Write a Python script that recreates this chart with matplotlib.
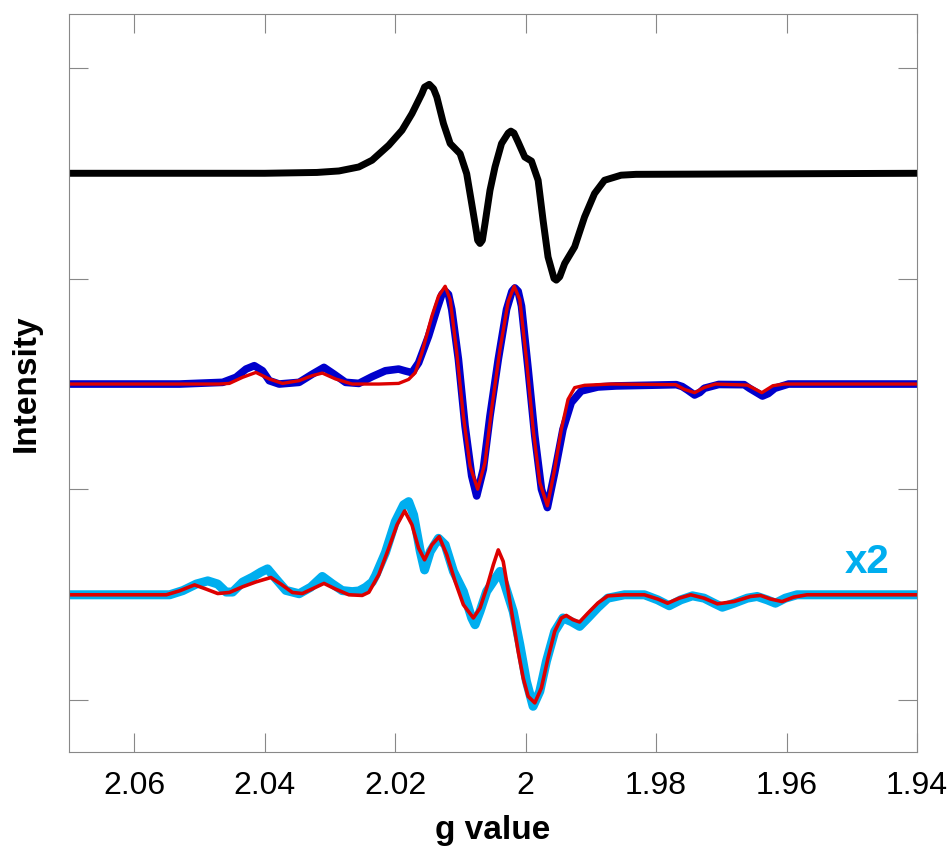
import matplotlib.pyplot as plt
import numpy as np

plt.rcParams['font.family'] = ['Liberation Sans', 'DejaVu Sans']

# top trace (black)
g_top = [2.07, 2.040, 2.0320, 2.02863, 2.02557, 2.02354, 2.02099, 2.01896, 2.01743, 2.01591,
         2.01550, 2.01478, 2.01412, 2.01362, 2.01260, 2.01157, 2.01005, 2.00904, 2.00827,
         2.00751, 2.00736, 2.00700, 2.00664, 2.00623, 2.00547, 2.00470, 2.00370, 2.00267,
         2.00227, 2.00180, 2.00115, 2.00013, 1.99911, 1.99809, 1.99733, 1.99657, 1.99565,
         1.99530, 1.99478, 1.99402, 1.99249, 1.99097, 1.98944, 1.98791, 1.98537, 1.98308, 1.94]
i_top = [0.0, 0.0, 0.004, 0.011, 0.030, 0.062, 0.133, 0.204, 0.283, 0.378,
         0.409, 0.422, 0.401, 0.362, 0.236, 0.141, 0.093, -0.002, -0.144,
         -0.286, -0.318, -0.333, -0.318, -0.238, -0.081, 0.030, 0.141, 0.191,
         0.200, 0.191, 0.148, 0.077, 0.058, -0.033, -0.223, -0.397, -0.499,
         -0.507, -0.491, -0.428, -0.349, -0.207, -0.096, -0.033, -0.009, -0.005, 0.0]

# middle trace (blue) and its fit (red)
g_mid = [2.07, 2.05305, 2.04644, 2.04440, 2.04287, 2.04160, 2.04034, 2.03931, 2.03779,
         2.03473, 2.03270, 2.03092, 2.02939, 2.02761, 2.02557, 2.02354, 2.02150, 2.01947,
         2.01845, 2.01743, 2.01641, 2.01489, 2.01362, 2.01285, 2.01234, 2.01183, 2.01133,
         2.01031, 2.00929, 2.00827, 2.00751, 2.00649, 2.00547, 2.00420, 2.00293, 2.00210,
         2.00165, 2.00115, 2.00064, 1.99962, 1.99860, 1.99758, 1.99667, 1.99555, 1.99428,
         1.99301, 1.99148, 1.98893, 1.98614, 1.9769, 1.9760, 1.9752, 1.9741, 1.9733,
         1.9726, 1.9704, 1.9665, 1.9657, 1.9637, 1.9628, 1.9618, 1.9597, 1.94]
i_mid = [0.0, 0.0, 0.008, 0.032, 0.071, 0.087, 0.063, 0.016, 0.0,
         0.008, 0.047, 0.079, 0.047, 0.008, 0.003, 0.035, 0.063, 0.071,
         0.062, 0.054, 0.101, 0.227, 0.354, 0.425, 0.441, 0.425, 0.354,
         0.117, -0.199, -0.436, -0.531, -0.404, -0.152, 0.117, 0.354, 0.440,
         0.456, 0.440, 0.370, 0.070, -0.246, -0.499, -0.586, -0.420, -0.215,
         -0.088, -0.033, -0.014, -0.009, -0.003, -0.012, -0.028, -0.052, -0.040,
         -0.020, -0.002, -0.003, -0.020, -0.057, -0.045, -0.020, 0.0, 0.0]

g_mid_fit = [2.07, 2.0470, 2.04542, 2.04339, 2.04135, 2.03931, 2.03728, 2.03473, 2.03270,
             2.03117, 2.02914, 2.02660, 2.02252, 2.01947, 2.01794, 2.01692, 2.01591, 2.01438,
             2.01336, 2.01234, 2.01157, 2.01056, 2.00955, 2.00852, 2.00736, 2.00623, 2.00522,
             2.00394, 2.00267, 2.00176, 2.00090, 1.99988, 1.99885, 1.99783, 1.99667, 1.99555,
             1.99453, 1.99351, 1.99249, 1.99097, 1.98690, 1.9770, 1.9757, 1.9741, 1.9726,
             1.9709, 1.9660, 1.9638, 1.9621, 1.9604, 1.94]
i_mid_fit = [0.0, 0.0, 0.003, 0.032, 0.055, 0.024, 0.003, 0.016, 0.040,
             0.052, 0.024, 0.0, 0.0, 0.003, 0.022, 0.054, 0.148, 0.322,
             0.417, 0.464, 0.401, 0.148, -0.152, -0.389, -0.499, -0.373, -0.120,
             0.164, 0.393, 0.464, 0.401, 0.117, -0.215, -0.468, -0.578, -0.404,
             -0.215, -0.073, -0.017, -0.006, 0.0, -0.003, -0.025, -0.041, -0.016,
             0.0, -0.005, -0.041, -0.008, 0.0, 0.0]

# bottom trace (cyan, shown x2) and its fit (red)
g_bot = [2.07, 2.05458, 2.05255, 2.05050, 2.04873, 2.04721, 2.04593, 2.04492, 2.04339,
         2.04186, 2.04058, 2.03957, 2.03830, 2.03677, 2.03473, 2.03295, 2.03118, 2.02965,
         2.02812, 2.02660, 2.02557, 2.02455, 2.02354, 2.02302, 2.02150, 2.01997, 2.01870,
         2.01794, 2.01718, 2.01615, 2.01550, 2.01463, 2.01336, 2.01234, 2.01107, 2.00955,
         2.00827, 2.00776, 2.00700, 2.00598, 2.00496, 2.00394, 2.00318, 2.00191, 2.00089,
         1.99988, 1.99886, 1.99783, 1.99682, 1.99555, 1.99428, 1.99301, 1.99173, 1.99046,
         1.98893, 1.98741, 1.98485, 1.98180, 1.97977, 1.97799, 1.97622, 1.97443, 1.97265,
         1.97112, 1.96985, 1.96806, 1.96603, 1.96451, 1.96298, 1.96171, 1.96019, 1.95840, 1.94]
i_bot = [0.0, 0.0, 0.020, 0.051, 0.066, 0.051, 0.013, 0.013, 0.060,
         0.084, 0.108, 0.123, 0.076, 0.021, 0.005, 0.036, 0.087, 0.052,
         0.020, 0.015, 0.018, 0.035, 0.060, 0.090, 0.200, 0.348, 0.427,
         0.442, 0.379, 0.205, 0.118, 0.205, 0.268, 0.237, 0.111, 0.016,
         -0.110, -0.142, -0.079, 0.016, 0.063, 0.111, 0.047, -0.079, -0.237,
         -0.411, -0.529, -0.458, -0.316, -0.174, -0.110, -0.127, -0.150, -0.110,
         -0.060, -0.016, 0.0, 0.0, -0.024, -0.052, -0.024, -0.005, -0.016,
         -0.040, -0.059, -0.040, -0.016, -0.008, -0.024, -0.040, -0.016, 0.0, 0.0]

g_bot_fit = [2.07, 2.05509, 2.05305, 2.05076, 2.04898, 2.04721, 2.04542, 2.04339, 2.04135,
             2.03906, 2.03753, 2.03576, 2.03423, 2.03244, 2.03092, 2.02914, 2.02710, 2.02506,
             2.02404, 2.02252, 2.02099, 2.01972, 2.01855, 2.01743, 2.01641, 2.01550, 2.01438,
             2.01326, 2.01209, 2.01081, 2.00955, 2.00802, 2.00700, 2.00598, 2.00496, 2.00420,
             2.00344, 2.00267, 2.00191, 2.00115, 2.00038, 1.99962, 1.99860, 1.99759, 1.99657,
             1.99555, 1.99453, 1.99377, 1.99275, 1.99173, 1.99046, 1.98893, 1.98741, 1.98485,
             1.98180, 1.97977, 1.97824, 1.97646, 1.97469, 1.97265, 1.97061, 1.96806, 1.96553,
             1.96400, 1.96247, 1.96069, 1.95891, 1.95687, 1.94]
i_bot_fit = [0.0, 0.0, 0.019, 0.047, 0.027, 0.006, 0.011, 0.038, 0.061,
             0.082, 0.051, 0.011, 0.006, 0.032, 0.054, 0.027, 0.0, -0.003,
             0.012, 0.095, 0.221, 0.332, 0.398, 0.332, 0.221, 0.166, 0.237,
             0.276, 0.190, 0.063, -0.047, -0.110, -0.063, 0.032, 0.142, 0.213,
             0.158, 0.016, -0.126, -0.268, -0.395, -0.482, -0.513, -0.442, -0.300,
             -0.174, -0.110, -0.098, -0.118, -0.129, -0.087, -0.039, -0.005, 0.0,
             0.0, -0.020, -0.040, -0.016, 0.0, -0.016, -0.043, -0.032, -0.008,
             -0.003, -0.020, -0.032, -0.011, 0.0, 0.0]

offsets = [2, 1, 0]
ytick_pos = [-0.5, 0.5, 1.5, 2.5]
xtick_pos = [2.06, 2.04, 2.02, 2.0, 1.98, 1.96, 1.94]
xtick_lab = ['2.06', '2.04', '2.02', '2', '1.98', '1.96', '1.94']

fig = plt.figure(figsize=(9.51, 8.46), dpi=100)
ax = fig.add_axes([0.0726, 0.1111, 0.8917, 0.8724])

kw = dict(solid_joinstyle='round', solid_capstyle='butt')
ax.plot(g_top, np.array(i_top) + offsets[0], color='black', lw=5, **kw)
ax.plot(g_mid, np.array(i_mid) + offsets[1], color='#0000cc', lw=5.5, **kw)
ax.plot(g_mid_fit, np.array(i_mid_fit) + offsets[1], color='#dd0000', lw=2.4, **kw)
ax.plot(g_bot, np.array(i_bot) + offsets[2], color='#00aeef', lw=6.5, **kw)
ax.plot(g_bot_fit, np.array(i_bot_fit) + offsets[2], color='#dd0000', lw=2.6, **kw)

ax.text(1.9476, 0.104, 'x2', color='#00aeef', fontsize=29, fontweight='bold',
        ha='center', va='baseline')

ax.set_xlim(2.07, 1.94)
ax.set_ylim(-0.746, 2.756)
ax.set_xticks(xtick_pos)
ax.set_xticklabels(xtick_lab)
ax.set_yticks(ytick_pos)
ax.set_yticklabels([])
ax.tick_params(direction='in', length=14, width=0.8, color='#888888',
               top=True, right=True, labelsize=23, pad=14)
for s in ax.spines.values():
    s.set_color('#888888')
    s.set_linewidth(0.8)

ax.set_xlabel('g value', fontsize=24, fontweight='bold', labelpad=10)
ax.set_ylabel('Intensity', fontsize=24, fontweight='bold', va='center')
ax.yaxis.set_label_coords(-0.0507, 0.5)

fig.savefig('out.png', dpi=100)
